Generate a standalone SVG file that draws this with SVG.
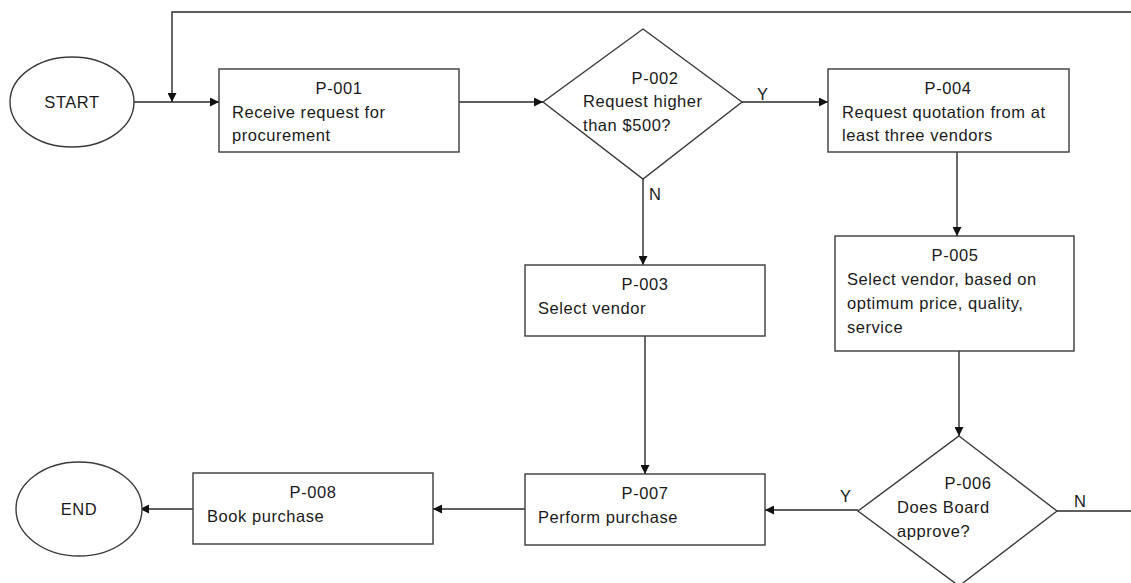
<svg xmlns="http://www.w3.org/2000/svg" width="1131" height="583" viewBox="0 0 1131 583">
  <style>
    .shape { fill: #ffffff; stroke: #3a3a3a; stroke-width: 1.4; }
    .edge { fill: none; stroke: #2a2a2a; stroke-width: 1.4; }
    .t { font-family: "Liberation Sans", Arial, sans-serif; font-size: 16.5px; letter-spacing: 0.55px; fill: #1a1a1a; }
    .c { text-anchor: middle; }
  </style>
  <defs>
    <marker id="arrow" viewBox="0 0 10 10" refX="10" refY="5" markerWidth="9" markerHeight="9" markerUnits="userSpaceOnUse" orient="auto">
      <path d="M0,0 L10,5 L0,10 z" fill="#111"/>
    </marker>
  </defs>
  <rect width="1131" height="583" fill="#ffffff"/>

  <g id="connectors">
    <!-- loop back along the top -->
    <polyline class="edge" points="1131,12 172,12 172,102" marker-end="url(#arrow)"/>
    <line class="edge" x1="134" y1="102" x2="219" y2="102" marker-end="url(#arrow)"/>
    <line class="edge" x1="459" y1="102" x2="543" y2="102" marker-end="url(#arrow)"/>
    <line class="edge" x1="742" y1="102" x2="828" y2="102" marker-end="url(#arrow)"/>
    <line class="edge" x1="643" y1="179" x2="643" y2="265" marker-end="url(#arrow)"/>
    <line class="edge" x1="957" y1="152" x2="957" y2="236" marker-end="url(#arrow)"/>
    <line class="edge" x1="959" y1="351" x2="959" y2="436" marker-end="url(#arrow)"/>
    <line class="edge" x1="645" y1="336" x2="645" y2="474" marker-end="url(#arrow)"/>
    <line class="edge" x1="858" y1="510" x2="765" y2="510" marker-end="url(#arrow)"/>
    <line class="edge" x1="1057" y1="511" x2="1131" y2="511"/>
    <line class="edge" x1="525" y1="509" x2="433" y2="509" marker-end="url(#arrow)"/>
    <line class="edge" x1="193" y1="509" x2="140" y2="509" marker-end="url(#arrow)"/>
    <text class="t" x="757" y="100">Y</text>
    <text class="t" x="649" y="200">N</text>
    <text class="t" x="840" y="502">Y</text>
    <text class="t" x="1074" y="507">N</text>
  </g>

  <g id="start">
    <ellipse class="shape" cx="72" cy="102" rx="62" ry="45"/>
    <text class="t c" x="72" y="108">START</text>
  </g>

  <g id="p001">
    <rect class="shape" x="219" y="69" width="240" height="83"/>
    <text class="t c" x="339" y="94">P-001</text>
    <text class="t" x="232" y="118">Receive request for</text>
    <text class="t" x="232" y="141">procurement</text>
  </g>

  <g id="p002">
    <polygon class="shape" points="643,29 742,102 643,179 543,102"/>
    <text class="t c" x="655" y="84">P-002</text>
    <text class="t" x="583" y="107">Request higher</text>
    <text class="t" x="583" y="131">than $500?</text>
  </g>

  <g id="p004">
    <rect class="shape" x="828" y="69" width="241" height="83"/>
    <text class="t c" x="948" y="94">P-004</text>
    <text class="t" x="842" y="118">Request quotation from at</text>
    <text class="t" x="842" y="141">least three vendors</text>
  </g>

  <g id="p003">
    <rect class="shape" x="525" y="265" width="240" height="71"/>
    <text class="t c" x="645" y="290">P-003</text>
    <text class="t" x="538" y="314">Select vendor</text>
  </g>

  <g id="p005">
    <rect class="shape" x="835" y="236" width="239" height="115"/>
    <text class="t c" x="955" y="261">P-005</text>
    <text class="t" x="847" y="285">Select vendor, based on</text>
    <text class="t" x="847" y="309">optimum price, quality,</text>
    <text class="t" x="847" y="333">service</text>
  </g>

  <g id="p006">
    <polygon class="shape" points="959,436 1057,511 959,586 858,511"/>
    <text class="t c" x="968" y="489">P-006</text>
    <text class="t" x="897" y="513">Does Board</text>
    <text class="t" x="897" y="537">approve?</text>
  </g>

  <g id="p007">
    <rect class="shape" x="525" y="474" width="240" height="71"/>
    <text class="t c" x="645" y="499">P-007</text>
    <text class="t" x="538" y="523">Perform purchase</text>
  </g>

  <g id="p008">
    <rect class="shape" x="193" y="473" width="240" height="71"/>
    <text class="t c" x="313" y="498">P-008</text>
    <text class="t" x="207" y="522">Book purchase</text>
  </g>

  <g id="end">
    <ellipse class="shape" cx="79" cy="509" rx="63" ry="47"/>
    <text class="t c" x="79" y="515">END</text>
  </g>
</svg>
